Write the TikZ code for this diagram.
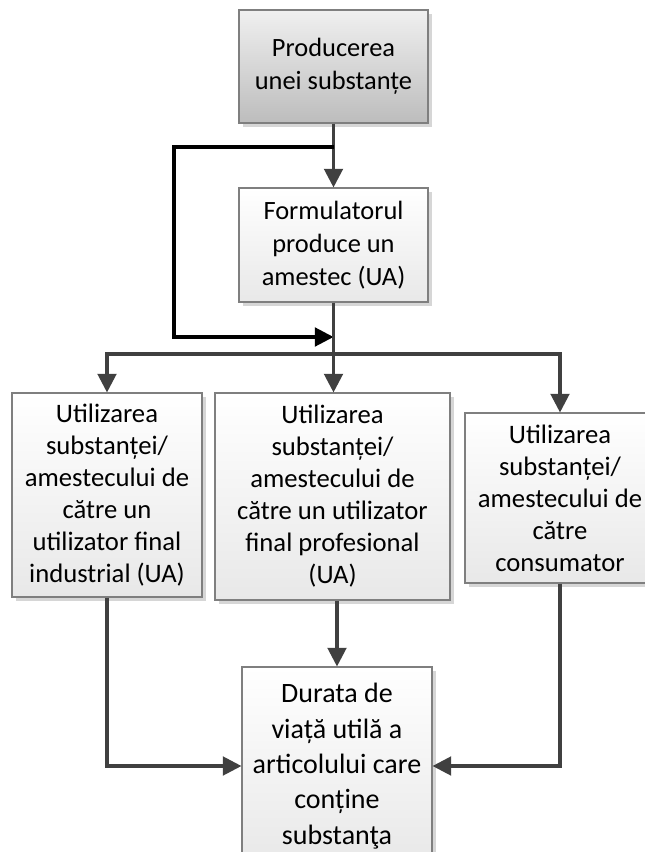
\documentclass[tikz,border=0pt]{standalone}
\usepackage{fontspec}
\setmainfont{Carlito}
\usetikzlibrary{arrows.meta,shadows}
\definecolor{edgegrey}{HTML}{404040}
\definecolor{framegrey}{HTML}{7F7F7F}
\definecolor{shadowgrey}{HTML}{D6D6D6}
\begin{document}
\begin{tikzpicture}[x=0.75pt,y=-0.75pt,
  box/.style={draw=framegrey,line width=0.8pt,align=center,inner sep=0pt,
    top color=white,bottom color=black!9,
    drop shadow={shadow xshift=3pt,shadow yshift=-3pt,fill=shadowgrey,opacity=1}},
  smalltext/.style={font=\fontsize{19.8}{24.5}\selectfont},
  bigtext/.style={font=\fontsize{20}{24}\selectfont},
  largetext/.style={font=\fontsize{21}{26.5}\selectfont},
  flow/.style={draw=edgegrey,line width=2.3pt,
    -{Triangle[length=14pt,width=14pt]}},
  loopline/.style={draw=black,line width=2.3pt,
    -{Triangle[length=14pt,width=14pt]}}]
\useasboundingbox (0,0) rectangle (645,852);
\clip (0,0) rectangle (645,852);

% process boxes
\node[box,smalltext,top color=black!6,bottom color=black!26,
  minimum width=141.75pt,minimum height=84.75pt] (produce) at (333.5,66.5)
  {Producerea\\unei substanțe};
\node[box,smalltext,minimum width=141.75pt,minimum height=85.5pt] (formulate) at (333.5,245)
  {Formulatorul\\produce un\\amestec (UA)};
\node[box,bigtext,minimum width=142.5pt,minimum height=153pt] (industrial) at (107,495)
  {Utilizarea\\substanței/\\amestecului de\\către un\\utilizator final\\industrial (UA)};
\node[box,bigtext,minimum width=176.25pt,minimum height=155.25pt] (professional) at (332.5,496.5)
  {Utilizarea\\substanței/\\amestecului de\\către un utilizator\\final profesional\\(UA)};
\node[box,bigtext,minimum width=142.5pt,minimum height=127.5pt] (consumer) at (560,498)
  {Utilizarea\\substanței/\\amestecului de\\către\\consumator};
\node[box,largetext,minimum width=142.5pt,minimum height=148.5pt] (article) at (337,766)
  {Durata de\\viață utilă a\\articolului care\\conține\\substanţa};

% junction points
\coordinate (split) at (333.5,147);
\coordinate (loopcorner) at (174,337);
\coordinate (join) at (333.5,337);
\coordinate (bus) at (333.5,354);

% connectors
\draw[flow] (produce) -- (formulate);
\draw[loopline] (split) -| (loopcorner) -- (join);
\draw[flow] (formulate.south) -- (formulate.south |- professional.north);
\draw[flow] (bus) -| (industrial.north);
\draw[flow] (bus) -| (consumer.north);
\draw[flow] (industrial.south) |- (article.west);
\draw[flow] (consumer.south) |- (article.east);
\draw[flow] (professional.south -| article.north) -- (article.north);
\end{tikzpicture}
\end{document}
